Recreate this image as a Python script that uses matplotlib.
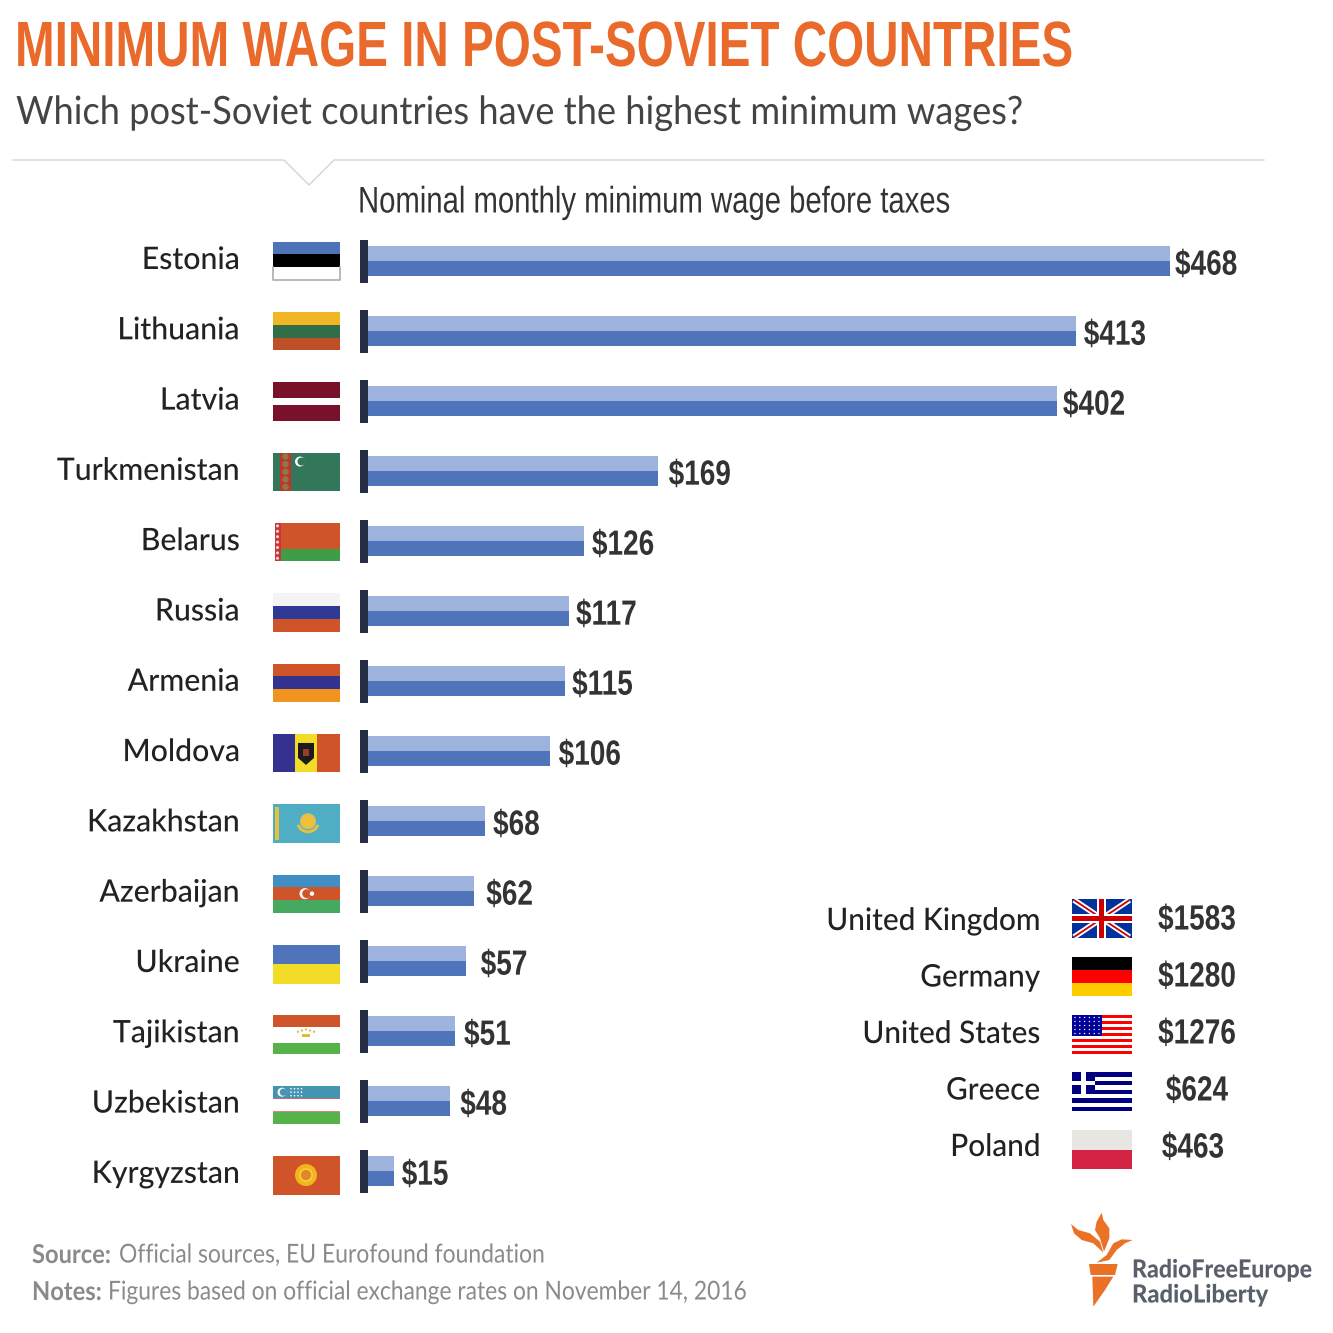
import matplotlib
matplotlib.use('Agg')
import matplotlib.pyplot as plt
import matplotlib.patheffects as pe
from matplotlib.patches import Rectangle, Polygon, Circle, Wedge
from matplotlib.transforms import Affine2D, Bbox

countries = ['Estonia', 'Lithuania', 'Latvia', 'Turkmenistan', 'Belarus', 'Russia', 'Armenia',
             'Moldova', 'Kazakhstan', 'Azerbaijan', 'Ukraine', 'Tajikistan', 'Uzbekistan', 'Kyrgyzstan']
wages = [468, 413, 402, 169, 126, 117, 115, 106, 68, 62, 57, 51, 48, 15]
label_pad = [5, 8, 6, 11, 8, 7.5, 7, 9, 8.5, 12, 15, 8.6, 10, 8]

other_countries = ['United Kingdom', 'Germany', 'United States', 'Greece', 'Poland']
other_wages = [1583, 1280, 1276, 624, 463]
other_x = [1197, 1197, 1197, 1197, 1193]

BOLDISH = ['Liberation Sans']
HUMAN = ['Lato', 'DejaVu Sans']
ORANGE = '#E96A2A'
LIGHT = '#9DB3DE'
DARK = '#5074BA'
NAVY = '#252E45'


def pt(px):
    return px * 72 / 100


fig = plt.figure(figsize=(13.33, 13.33), dpi=100, facecolor='white')
ax = fig.add_axes([0, 0, 1, 1])
ax.set_xlim(0, 1333)
ax.set_ylim(1333, 0)
ax.axis('off')
renderer = fig.canvas.get_renderer()


# no condensed font here, so the glyphs get squeezed sideways when drawn
class Squeeze(pe.AbstractPathEffect):
    def __init__(self, x0, sx, y0=0, sy=1):
        super().__init__()
        self.x0 = x0
        self.sx = sx
        self.y0 = y0
        self.sy = sy

    def draw_path(self, renderer, gc, tpath, affine, rgbFace=None):
        squeeze_tf = Affine2D().translate(-self.x0, -self.y0).scale(self.sx, self.sy).translate(self.x0, self.y0)
        renderer.draw_path(gc, tpath, affine + squeeze_tf, rgbFace)


def squeeze(t, x0, sx=None, width=None, y0=0, sy=1):
    orig = t.get_window_extent
    if width is not None:
        sx = width / orig(renderer).width
    t.set_path_effects([Squeeze(x0, sx, y0, sy)])

    def extent(renderer=None, dpi=None):
        b = orig(renderer, dpi)
        return Bbox([[x0 + (b.x0 - x0) * sx, y0 + (b.y0 - y0) * sy], [x0 + (b.x1 - x0) * sx, y0 + (b.y1 - y0) * sy]])
    t.get_window_extent = extent
    return t


def rect(x, y, w, h, c, z=3):
    ax.add_patch(Rectangle((x, y), w, h, fc=c, ec='none', zorder=z))


def stripes(x, y, w, h, colors):
    for k, c in enumerate(colors):
        rect(x, y + h * k / len(colors), w, h / len(colors), c)


def crescent(cx, cy, r, col, bg):
    ax.add_patch(Circle((cx, cy), r, fc=col, ec='none', zorder=4))
    ax.add_patch(Circle((cx + r * 0.3, cy), r * 0.8, fc=bg, ec='none', zorder=4))


def draw_flag(name, x, y, w, h):
    if name == 'Estonia':
        stripes(x, y, w, h, ['#4F73B8', '#000000', '#FFFFFF'])
        ax.plot([x, x, x + w, x + w], [y + h * 2 / 3, y + h, y + h, y + h * 2 / 3], color='#AAADB5', lw=1.2, zorder=5)
    elif name == 'Lithuania':
        stripes(x, y, w, h, ['#F1B625', '#2F6E47', '#BE5028'])
    elif name == 'Latvia':
        rect(x, y, w, h, '#7A112B')
        rect(x, y + h * 0.4, w, h * 0.2, '#FFFFFF')
    elif name == 'Turkmenistan':
        rect(x, y, w, h, '#32775A')
        rect(x + 7, y, 11, h, '#C2342B')
        for k in range(5):
            ax.add_patch(Circle((x + 12.5, y + 4 + k * 7.6), 3.2, fc='#8A7A45', ec='none', zorder=4))
        crescent(x + 27, y + 9, 5, 'white', '#32775A')
    elif name == 'Belarus':
        rect(x, y, w, h * 2 / 3, '#CF5429')
        rect(x, y + h * 2 / 3, w, h / 3, '#3F9C47')
        rect(x, y, 1.5, h, 'white', 4)
        rect(x + 1, y, 7, h, '#C9353F')
        for k in range(7):
            ax.add_patch(Circle((x + 4.5, y + 3 + k * 5.4), 1.5, fc='#F2D5CF', ec='none', zorder=4))
    elif name == 'Russia':
        stripes(x, y, w, h, ['#F4F4F4', '#2E3A94', '#CF5429'])
    elif name == 'Armenia':
        stripes(x, y, w, h, ['#CF5429', '#33338F', '#F0941F'])
    elif name == 'Moldova':
        rect(x, y, w / 3, h, '#33338F')
        rect(x + w / 3, y, w / 3, h, '#F2DC27')
        rect(x + 2 * w / 3, y, w / 3, h, '#CF5429')
        ax.add_patch(Polygon([(x + 25, y + 9), (x + 41, y + 9), (x + 41, y + 24), (x + 33, y + 31),
                              (x + 25, y + 24)], fc='#1C1A1A', ec='none', zorder=4))
        rect(x + 30, y + 15, 6, 7, '#9A3A30', 5)
    elif name == 'Kazakhstan':
        rect(x, y, w, h, '#4FAEC4')
        rect(x + 2, y + 3, 4, h - 6, '#E5C043')
        ax.add_patch(Circle((x + 35, y + 17), 7, fc='#EFC136', ec='#DDBF5A', lw=1.5, zorder=4))
        ax.add_patch(Wedge((x + 35, y + 17), 12, 20, 160, width=3, fc='#E5C043', ec='none', zorder=4))
    elif name == 'Azerbaijan':
        stripes(x, y, w, h, ['#418EC4', '#CF5429', '#45A960'])
        crescent(x + 32, y + 19, 5.5, 'white', '#CF5429')
        ax.add_patch(Circle((x + 39, y + 19), 2.2, fc='white', ec='none', zorder=5))
    elif name == 'Ukraine':
        stripes(x, y, w, h, ['#5074BA', '#F2DC27'])
    elif name == 'Tajikistan':
        rect(x, y, w, h, 'white')
        rect(x, y, w, h * 0.29, '#CF5429')
        rect(x, y + h * 0.71, w, h * 0.29, '#55B349')
        for k in range(-2, 3):
            ax.add_patch(Circle((x + 33 + k * 4, y + 14 + abs(k) * 1.2), 1.1, fc='#E2B93B', ec='none', zorder=4))
        rect(x + 29, y + 19, 8, 3, '#E2B93B', 4)
    elif name == 'Uzbekistan':
        rect(x, y, w, h, 'white')
        rect(x, y, w, h / 3, '#4495B2')
        rect(x, y + h / 3 - 1, w, 1, '#C46A78')
        rect(x, y + 2 * h / 3, w, h / 3, '#55B349')
        rect(x, y + 2 * h / 3, w, 1, '#D98088')
        crescent(x + 9, y + 6.5, 4.5, 'white', '#4495B2')
        for a in range(4):
            for b in range(3):
                ax.add_patch(Circle((x + 18 + a * 3.5, y + 3 + b * 3.5), 0.8, fc='white', ec='none', zorder=4))
    elif name == 'Kyrgyzstan':
        rect(x, y, w, h, '#CF5429')
        ax.add_patch(Circle((x + 33, y + 19), 11, fc='#F2B51E', ec='none', zorder=4))
        ax.add_patch(Circle((x + 33, y + 19), 6, fc='#E3852A', ec='#F5D13A', lw=1.2, zorder=4))
    elif name == 'United Kingdom':
        rect(x, y, w, h, '#00339A')
        ax.plot([x + 2, x + w - 2], [y + 1, y + h - 1], color='white', lw=4, zorder=4, solid_capstyle='butt')
        ax.plot([x + 2, x + w - 2], [y + h - 1, y + 1], color='white', lw=4, zorder=4, solid_capstyle='butt')
        ax.plot([x + 2, x + w - 2], [y + 1, y + h - 1], color='#CC0000', lw=1.3, zorder=4, solid_capstyle='butt')
        ax.plot([x + 2, x + w - 2], [y + h - 1, y + 1], color='#CC0000', lw=1.3, zorder=4, solid_capstyle='butt')
        rect(x + w / 2 - 4.5, y, 9, h, 'white', 5)
        rect(x, y + h / 2 - 4.5, w, 9, 'white', 5)
        rect(x + w / 2 - 2.5, y, 5, h, '#CC0000', 6)
        rect(x, y + h / 2 - 2.5, w, 5, '#CC0000', 6)
    elif name == 'Germany':
        stripes(x, y, w, h, ['#000000', '#FF0000', '#FFCC00'])
    elif name == 'United States':
        for k in range(13):
            rect(x, y + h * k / 13, w, h / 13, '#FF0000' if k % 2 == 0 else 'white')
        rect(x, y, 30, h * 7 / 13, '#000099', 4)
        for a in range(6):
            for b in range(5):
                ax.add_patch(Circle((x + 3 + a * 4.8, y + 3 + b * 4), 0.7, fc='white', ec='none', zorder=5))
    elif name == 'Greece':
        for k in range(9):
            rect(x, y + h * k / 9, w, h / 9, '#000080' if k % 2 == 0 else 'white')
        rect(x, y, 23, h * 5 / 9, '#000080', 4)
        rect(x + 9, y, 5, h * 5 / 9, 'white', 5)
        rect(x, y + h * 2 / 9, 23, h / 9, 'white', 5)
    elif name == 'Poland':
        stripes(x, y, w, h, ['#E8E6E3', '#D32443'])


# header: set small and stretched tall, so the unsqueezed text still fits the figure
t = ax.text(15, 66, 'MINIMUM WAGE IN POST-SOVIET COUNTRIES', color=ORANGE, fontsize=pt(46), fontweight='bold',
            family=BOLDISH, va='baseline', ha='left')
squeeze(t, 15, width=1058, y0=1333 - 66, sy=64 / 46)
t = ax.text(16, 113, 'Which post-Soviet countries have the highest minimum wages?', color='#444444',
            fontsize=pt(39), family=HUMAN, va='center', ha='left')
squeeze(t, 16, width=1008)
ax.plot([13, 284, 309, 334, 1264], [160, 160, 185, 160, 160], color='#D4D4D4', lw=1)
t = ax.text(358, 203, 'Nominal monthly minimum wage before taxes', color='#333333', fontsize=pt(37),
            family=BOLDISH, va='center', ha='left')
squeeze(t, 358, width=593)

# bars
bar_ax = fig.add_axes([368 / 1333, 1 - 1206 / 1333, 802 / 1333, 980 / 1333])
bar_ax.set_xlim(0, 468)
bar_ax.set_ylim(13.5, -0.5)
bar_ax.axis('off')
bar_ax.patch.set_alpha(0)
rows = list(range(len(countries)))
bar_ax.barh(rows, wages, height=30 / 70, color=LIGHT)
bar_ax.barh([r + 7.5 / 70 for r in rows], wages, height=15 / 70, color=DARK)
for r, v, pad in zip(rows, wages, label_pad):
    t = bar_ax.annotate(f'${v}', (v, r), xytext=(pad * 0.72, -3), textcoords='offset points', color='#333333',
                        fontsize=pt(35), fontweight='bold', family=BOLDISH, va='center', ha='left',
                        annotation_clip=False)
    squeeze(t, bar_ax.transData.transform((v, r))[0] + pad, sx=0.8)

for i, name in enumerate(countries):
    t = ax.text(240, 260 + 70.3 * i, name, color='#222222', fontsize=pt(31), fontweight='medium', family=HUMAN,
                va='center', ha='right')
    squeeze(t, 240, sx=0.975)
    draw_flag(name, 273, 241.5 + 70.35 * i, 66.5, 38.5)
    rect(360, 240 + 70 * i, 8, 43, NAVY)

# comparison countries
for i, (name, v, vx) in enumerate(zip(other_countries, other_wages, other_x)):
    t = ax.text(1040.5, 921 + 56.5 * i, name, color='#222222', fontsize=pt(31), fontweight='medium', family=HUMAN,
                va='center', ha='right')
    squeeze(t, 1040.5, sx=0.96)
    draw_flag(name, 1072, 899 + 57.75 * i, 59.5, 39)
    t = ax.text(vx, 920 + 57 * i, f'${v}', color='#333333', fontsize=pt(35), fontweight='bold', family=BOLDISH,
                va='center', ha='center')
    squeeze(t, vx, sx=0.8)

# footer
t = ax.text(32, 1255, 'Source:', color='#8A8A8A', fontsize=pt(26), fontweight='bold', family=HUMAN, va='center')
squeeze(t, 32, width=79)
t = ax.text(119, 1255, 'Official sources, EU Eurofound foundation', color='#8A8A8A', fontsize=pt(26),
            family=HUMAN, va='center')
squeeze(t, 119, width=427)
t = ax.text(32, 1292, 'Notes:', color='#8A8A8A', fontsize=pt(26), fontweight='bold', family=HUMAN, va='center')
squeeze(t, 32, width=70)
t = ax.text(108, 1292, 'Figures based on official exchange rates on November 14, 2016', color='#8A8A8A',
            fontsize=pt(26), family=HUMAN, va='center')
squeeze(t, 108, width=640)

# logo
torch = [
    [(155, 38), (140, 65), (135, 90), (150, 115), (162, 155), (178, 115), (178, 85), (160, 60)],
    [(63, 72), (72, 100), (95, 120), (130, 130), (160, 158), (150, 125), (120, 100), (85, 90)],
    [(248, 120), (215, 118), (190, 130), (170, 165), (140, 188), (178, 180), (200, 150), (225, 130)],
    [(117, 192), (203, 192), (195, 225), (122, 225)],
    [(127, 230), (190, 230), (165, 270), (130, 320)],
]
for part in torch:
    ax.add_patch(Polygon([(1050 + px / 3, 1200 + py / 3) for px, py in part], fc='#EA7125', ec='none'))
t = ax.text(1132, 1270, 'RadioFreeEurope', color='#59606B', fontsize=pt(25), fontweight='black', family=HUMAN, va='center')
squeeze(t, 1132, width=180)
t = ax.text(1132, 1295, 'RadioLiberty', color='#59606B', fontsize=pt(25), fontweight='black', family=HUMAN, va='center')
squeeze(t, 1132, width=136)

plt.savefig('out.png', dpi=100)
